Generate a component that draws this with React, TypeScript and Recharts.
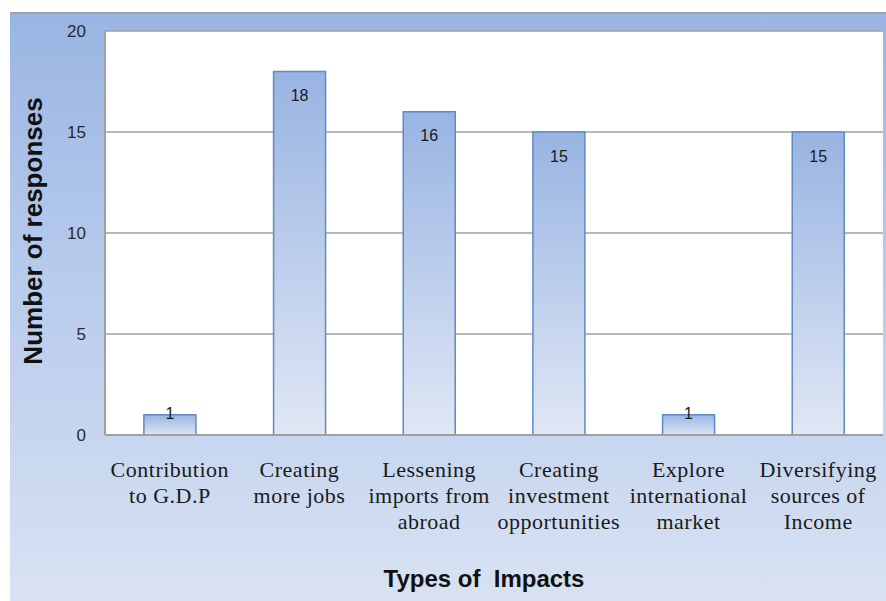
import React from 'react';
import { BarChart, Bar, XAxis, YAxis, CartesianGrid, LabelList, Label } from 'recharts';

const categories = [
  'Contribution to G.D.P',
  'Creating more jobs',
  'Lessening imports from abroad',
  'Creating investment opportunities',
  'Explore international market',
  'Diversifying sources of Income',
];
const tickLines = [
  ['Contribution', 'to G.D.P'],
  ['Creating', 'more jobs'],
  ['Lessening', 'imports from', 'abroad'],
  ['Creating', 'investment', 'opportunities'],
  ['Explore', 'international', 'market'],
  ['Diversifying', 'sources of', 'Income'],
];
const responses = [1, 18, 16, 15, 1, 15];
const yTicks = [0, 5, 10, 15, 20];

const data = categories.map((c, i) => ({ name: c, idx: i, value: responses[i] }));

// tick labels are several lines of serif text
const CategoryTick = (props: any) => {
  const { x, y, payload } = props;
  const lines = tickLines[payload.index] || [payload.value];
  return (
    <text x={x} y={y + 34} textAnchor="middle" fontFamily="'Liberation Serif', serif" fontSize={22}
      letterSpacing={0.5} fill="#1a1a1a">
      {lines.map((l, i) => (
        <tspan key={i} x={x} dy={i === 0 ? 0 : 26}>{l}</tspan>
      ))}
    </text>
  );
};

// value label inside the bar top, or on top edge when the bar is short
const ValueLabel = (props: any) => {
  const { x, y, width, height, value } = props;
  const cy = height > 40 ? y + 24 : y - 1;
  return (
    <text x={x + width / 2} y={cy} textAnchor="middle" dominantBaseline="central"
      fontFamily="'Liberation Sans', Arial, sans-serif" fontSize={16} fill="#1a1a1a">
      {value}
    </text>
  );
};

const App: React.FC = () => {
  return (
    <div style={{ position: 'absolute', left: 0, top: 0, width: 886, height: 601, background: '#fff', overflow: 'hidden' }}>
      <div style={{
        position: 'absolute', left: 10, top: 12, width: 876, height: 589,
        borderTop: '2px solid #a3a3a3',
        background: 'linear-gradient(to bottom, #9ab5e3 0%, #b7cbec 45%, #d8e2f2 100%)',
      }} />
      <div style={{ position: 'absolute', left: 0, top: 0 }}>
        <BarChart width={886} height={601} data={data} margin={{ top: 31, right: 3, bottom: 0, left: 0 }} barCategoryGap="30%">
          <defs>
            <linearGradient id="barGrad" x1="0" y1="0" x2="0" y2="1">
              <stop offset="0%" stopColor="#98b4e2" />
              <stop offset="100%" stopColor="#e0e7f5" />
            </linearGradient>
          </defs>
          <CartesianGrid vertical={false} stroke="#a0a0a0" strokeWidth={1.5} fill="#ffffff" />
          <XAxis dataKey="name" tick={<CategoryTick />} interval={0} height={166}
            axisLine={{ stroke: '#a0a0a0', strokeWidth: 2 }} tickLine={false}>
            <Label content={() => (
              <text x={484} y={587} textAnchor="middle" fontFamily="'Liberation Sans', Arial, sans-serif"
                fontWeight="bold" fontSize={24} fill="#111" style={{ whiteSpace: 'pre' }}>Types of  Impacts</text>
            )} />
          </XAxis>
          <YAxis domain={[0, 20]} ticks={yTicks} width={105} tickSize={0} tickMargin={19}
            axisLine={{ stroke: '#a0a0a0', strokeWidth: 2 }} tickLine={false}
            tick={{ fontFamily: "'Liberation Sans', Arial, sans-serif", fontSize: 17, fill: '#2a2a2a' }}>
            <Label content={() => (
              <text transform="translate(42,231) rotate(-90)" textAnchor="middle"
                fontFamily="'Liberation Sans', Arial, sans-serif" fontWeight="bold" fontSize={26} fill="#111">
                Number of responses
              </text>
            )} />
          </YAxis>
          <Bar dataKey="value" fill="url(#barGrad)" stroke="#5f8ac7" strokeWidth={1.5} isAnimationActive={false}>
            <LabelList dataKey="value" content={<ValueLabel />} />
          </Bar>
        </BarChart>
      </div>
    </div>
  );
};

export default App;
